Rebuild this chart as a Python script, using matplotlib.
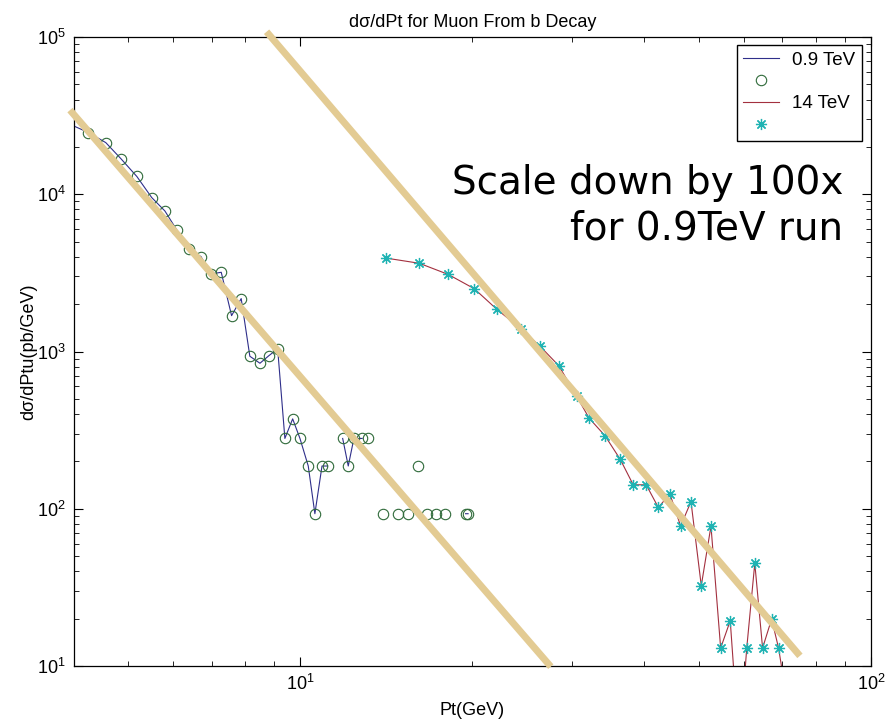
import numpy as np
import matplotlib.pyplot as plt
from matplotlib.ticker import LogLocator, NullFormatter

plt.rcParams['font.family'] = ['Liberation Sans', 'DejaVu Sans']
plt.rcParams['mathtext.fontset'] = 'custom'
plt.rcParams['mathtext.rm'] = 'Liberation Sans'
plt.rcParams['mathtext.it'] = 'Liberation Sans:italic'
plt.rcParams['mathtext.bf'] = 'Liberation Sans:bold'

# 0.9 TeV run, scaled down by 100x (markers)
pt_09 = [4.26, 4.57, 4.86, 5.18, 5.50, 5.80, 6.09, 6.39, 6.71, 6.98,
         7.28, 7.59, 7.89, 8.17, 8.51, 8.82, 9.14, 9.41, 9.71, 10.0,
         10.34, 10.62, 10.93, 11.18, 11.88, 12.15, 12.43, 12.85, 13.14,
         13.96, 14.83, 15.46, 16.11, 16.67, 17.29, 17.95, 19.5, 19.7]
xs_09 = [24700, 21300, 16800, 12970, 9530, 7830, 5900, 4470, 4010, 3110,
         3190, 1690, 2170, 933, 842, 940, 1040, 280, 373, 280,
         187, 93, 187, 187, 280, 187, 280, 280, 280,
         93, 93, 93, 187, 93, 93, 93, 93, 93]

# 0.9 TeV curve, broken where the bins are empty
pt_09_line = [3.96, 4.26, 4.57, 4.86, 5.18, 5.50, 5.80, 6.09, 6.39, 6.71,
              6.98, 7.28, 7.59, 7.89, 8.17, 8.51, 8.82, 9.14, 9.41, 9.71,
              10.0, 10.34, 10.62, 10.93, 11.18, np.nan,
              11.88, 12.15, 12.43, 12.85, np.nan, 19.5, 19.7]
xs_09_line = [27800, 24700, 21300, 16800, 12970, 9530, 7830, 5900, 4470, 4010,
              3110, 3190, 1690, 2170, 933, 842, 940, 1040, 280, 373,
              280, 187, 93, 187, 187, np.nan,
              280, 187, 280, 280, np.nan, 93, 93]

# 14 TeV run
pt_14 = [14.13, 16.18, 18.18, 20.2, 22.13, 24.38, 26.32, 28.41, 30.52, 32.11,
         34.2, 36.39, 38.34, 40.4, 42.42, 44.46, 46.42, 48.4, 50.45, 52.46,
         54.55, 56.7, 58.8, 60.6, 62.6, 64.6, 67.0, 68.9, 71.3]
xs_14 = [3930, 3640, 3093, 2507, 1852, 1396, 1082, 811, 519, 376,
         292, 206, 142, 142, 102, 124, 77.6, 111, 32.4, 77.6,
         13, 19.4, 3, 13, 45, 13, 19.9, 13, 6]

# hand-drawn power-law guides
guide_a_pt = [3.956, 27.5]
guide_a_xs = [34300, 9.9]
guide_b_pt = [8.74, 75.1]
guide_b_xs = [108000, 11.6]

fig = plt.figure(figsize=(8.86, 7.2), dpi=100)
ax = fig.add_axes([0.0835, 0.075, 0.8995, 0.8736])

l09, = ax.plot(pt_09_line, xs_09_line, color='#2f2f8a', lw=0.8)
m09, = ax.plot(pt_09, xs_09, ls='none', marker='o', ms=7.5, mfc='none',
               mec='#2f6a3a', mew=0.8)
l14, = ax.plot(pt_14, xs_14, color='#a3303f', lw=0.8)
m14, = ax.plot(pt_14, xs_14, ls='none', marker=(8, 2, 0), ms=8,
               mec='#1fb3b3', mew=0.9)

guide = '#E3CB93'
ax.plot(guide_a_pt, guide_a_xs, color=guide, lw=5, clip_on=False,
        solid_capstyle='butt', zorder=5)
ax.plot(guide_b_pt, guide_b_xs, color=guide, lw=5, clip_on=False,
        solid_capstyle='butt', zorder=5)

ax.set_xscale('log')
ax.set_yscale('log')
ax.set_xlim(4.02, 100)
ax.set_ylim(10, 1e5)
ax.xaxis.set_minor_locator(LogLocator(base=10, subs=np.arange(2, 10)))
ax.yaxis.set_minor_locator(LogLocator(base=10, subs=np.arange(2, 10)))
ax.xaxis.set_minor_formatter(NullFormatter())
ax.yaxis.set_minor_formatter(NullFormatter())
ax.tick_params(which='both', direction='in', top=True, right=True,
               labelsize=13, color='black')
ax.tick_params(which='major', length=6.5, pad=6)
ax.tick_params(which='minor', length=3.4)
for s in ax.spines.values():
    s.set_linewidth(0.9)

ax.set_title('dσ/dPt for Muon From b Decay', fontsize=13, pad=7)
ax.set_xlabel('Pt(GeV)', fontsize=13)
ax.set_ylabel('dσ/dPtu(pb/GeV)', fontsize=13)
ax.xaxis.set_label_coords(0.5, -0.058)
ax.yaxis.set_label_coords(-0.046, 0.5)

ax.legend([l09, m09, l14, m14], ['0.9 TeV', ' ', '14 TeV', ' '],
          loc='upper right', bbox_to_anchor=(0.9887, 0.9873), fontsize=13.5,
          frameon=True, fancybox=False, edgecolor='black', framealpha=1,
          handlelength=1.9, handletextpad=0.7, labelspacing=0.25,
          borderpad=0.35, borderaxespad=0)

fig.text(0.9515, 0.6667, 'Scale down by 100x\nfor 0.9TeV run',
         family='DejaVu Sans', fontsize=28, ha='right', va='baseline',
         multialignment='right', linespacing=1.28)

fig.savefig('out.png', dpi=100)
